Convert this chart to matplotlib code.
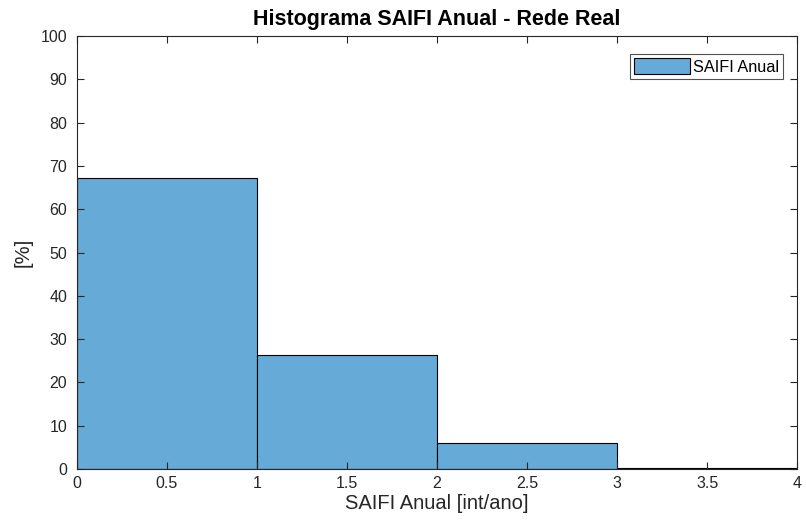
import numpy as np
import matplotlib
matplotlib.use("Agg")
import matplotlib.pyplot as plt

plt.rcParams['font.family'] = ['Liberation Sans', 'DejaVu Sans']

bin_edges = [0, 1, 2, 3, 4]
percent = [67.2, 26.4, 5.9, 0.3]

fig = plt.figure(figsize=(8.06, 5.24), dpi=100)
ax = fig.add_axes([0.0955, 0.105, 0.8935, 0.826])

ax.bar(bin_edges[:-1], percent, width=np.diff(bin_edges), align='edge',
       color='#66AAD7', edgecolor='black', linewidth=0.8, label='SAIFI Anual')

ax.set_xlim(0, 4)
ax.set_ylim(0, 100)
ax.set_xticks(np.arange(0, 4.01, 0.5))
ax.set_xticklabels(['0', '0.5', '1', '1.5', '2', '2.5', '3', '3.5', '4'])
ax.set_yticks(np.arange(0, 101, 10))

gray = '#262626'
ax.tick_params(direction='in', top=True, right=True, labelsize=11.5, colors=gray,
               length=5, width=0.8)
ax.tick_params(axis='x', pad=5)
ax.tick_params(axis='y', pad=7)
for s in ax.spines.values():
    s.set_color(gray)
    s.set_linewidth(0.8)

ax.set_xlabel('SAIFI Anual [int/ano]', fontsize=14.5, color=gray, labelpad=2)
ax.set_ylabel('[%]', fontsize=14.5, color=gray, labelpad=6)
ax.set_title('Histograma SAIFI Anual - Rede Real', fontsize=15.5, fontweight='bold',
             color='black', pad=8)

leg = ax.legend(loc='upper right', bbox_to_anchor=(0.9806, 0.958),
                fontsize=11.7, frameon=True, fancybox=False,
                edgecolor=gray, handlelength=3.45, handleheight=1.1,
                borderaxespad=0, borderpad=0.25, handletextpad=0.2)
leg.get_frame().set_linewidth(0.8)

fig.savefig('out.png', dpi=100)
